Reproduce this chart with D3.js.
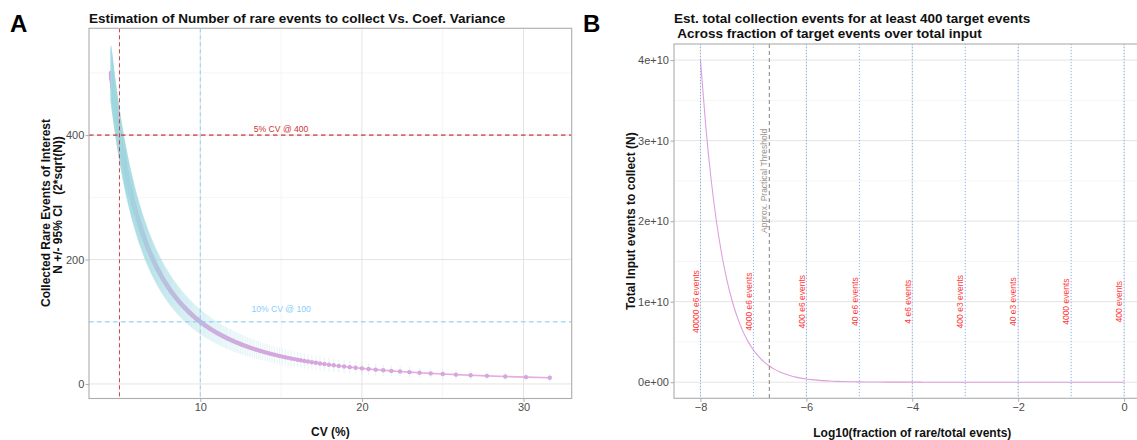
<!DOCTYPE html>
<html>
<head>
<meta charset="utf-8">
<script src="https://cdn.jsdelivr.net/npm/d3@7"></script>
<style>
  html, body { margin: 0; padding: 0; background: #fff; }
  svg { display: block; }
  text { font-family: "Liberation Sans", Arial, Helvetica, sans-serif; white-space: pre; }
</style>
</head>
<body>
<svg id="chart" width="1137" height="440"></svg>
<script>
// ---------------- Panel A data ----------------
// Number of rare events collected (N); CV(%) = 100/sqrt(N), 95% CI = N +/- 2*sqrt(N)
const collectedN = [
  10, 11, 12, 13, 14, 15, 16, 17, 18, 19, 20, 21, 22, 23, 24, 25, 26, 27, 28, 29,
  30, 31, 32, 33, 34, 35, 36, 37, 38, 39, 40, 41, 42, 43, 44, 45, 46, 47, 48, 49,
  50, 51, 52, 53, 54, 55, 56, 57, 58, 59, 60, 61, 62, 63, 64, 65, 66, 67, 68, 69,
  70, 71, 72, 73, 74, 75, 76, 77, 78, 79, 80, 81, 82, 83, 84, 85, 86, 87, 88, 89,
  90, 91, 92, 93, 94, 95, 96, 97, 98, 99, 100, 101, 102, 103, 104, 105, 106, 107, 108, 109,
  110, 111, 112, 113, 114, 115, 116, 117, 118, 119, 120, 121, 122, 123, 124, 125, 126, 127, 128, 129,
  130, 131, 132, 133, 134, 135, 136, 137, 138, 139, 140, 141, 142, 143, 144, 145, 146, 147, 148, 149,
  150, 151, 152, 153, 154, 155, 156, 157, 158, 159, 160, 161, 162, 163, 164, 165, 166, 167, 168, 169,
  170, 171, 172, 173, 174, 175, 176, 177, 178, 179, 180, 181, 182, 183, 184, 185, 186, 187, 188, 189,
  190, 191, 192, 193, 194, 195, 196, 197, 198, 199, 200, 201, 202, 203, 204, 205, 206, 207, 208, 209,
  210, 211, 212, 213, 214, 215, 216, 217, 218, 219, 220, 221, 222, 223, 224, 225, 226, 227, 228, 229,
  230, 231, 232, 233, 234, 235, 236, 237, 238, 239, 240, 241, 242, 243, 244, 245, 246, 247, 248, 249,
  250, 251, 252, 253, 254, 255, 256, 257, 258, 259, 260, 261, 262, 263, 264, 265, 266, 267, 268, 269,
  270, 271, 272, 273, 274, 275, 276, 277, 278, 279, 280, 281, 282, 283, 284, 285, 286, 287, 288, 289,
  290, 291, 292, 293, 294, 295, 296, 297, 298, 299, 300, 301, 302, 303, 304, 305, 306, 307, 308, 309,
  310, 311, 312, 313, 314, 315, 316, 317, 318, 319, 320, 321, 322, 323, 324, 325, 326, 327, 328, 329,
  330, 331, 332, 333, 334, 335, 336, 337, 338, 339, 340, 341, 342, 343, 344, 345, 346, 347, 348, 349,
  350, 351, 352, 353, 354, 355, 356, 357, 358, 359, 360, 361, 362, 363, 364, 365, 366, 367, 368, 369,
  370, 371, 372, 373, 374, 375, 376, 377, 378, 379, 380, 381, 382, 383, 384, 385, 386, 387, 388, 389,
  390, 391, 392, 393, 394, 395, 396, 397, 398, 399, 400, 401, 402, 403, 404, 405, 406, 407, 408, 409,
  410, 411, 412, 413, 414, 415, 416, 417, 418, 419, 420, 421, 422, 423, 424, 425, 426, 427, 428, 429,
  430, 431, 432, 433, 434, 435, 436, 437, 438, 439, 440, 441, 442, 443, 444, 445, 446, 447, 448, 449,
  450, 451, 452, 453, 454, 455, 456, 457, 458, 459, 460, 461, 462, 463, 464, 465, 466, 467, 468, 469,
  470, 471, 472, 473, 474, 475, 476, 477, 478, 479, 480, 481, 482, 483, 484, 485, 486, 487, 488, 489,
  490, 491, 492, 493, 494, 495, 496, 497, 498, 499, 500
];

// Reference CV thresholds and the event counts they require
const refCV = [5, 10];
const refN = [400, 100];
const refNotes = ["5% CV @ 400", "10% CV @ 100"];
const refNoteCV = [15, 15];
const refNoteN = [410, 120];

const xTicksA = [10, 20, 30];
const xMinorA = [5, 15, 25];
const yTicksA = [0, 200, 400];
const yMinorA = [100, 300, 500];

// ---------------- Panel B data ----------------
// log10 of the rare-event fraction and the total input needed to reach 400 target events
const log10Fraction = [
  -8.0, -7.9, -7.8, -7.7, -7.6, -7.5, -7.4, -7.3, -7.2, -7.1,
  -7.0, -6.9, -6.8, -6.7, -6.6, -6.5, -6.4, -6.3, -6.2, -6.1,
  -6.0, -5.9, -5.8, -5.7, -5.6, -5.5, -5.4, -5.3, -5.2, -5.1,
  -5.0, -4.9, -4.8, -4.7, -4.6, -4.5, -4.4, -4.3, -4.2, -4.1,
  -4.0, -3.9, -3.8, -3.7, -3.6, -3.5, -3.4, -3.3, -3.2, -3.1,
  -3.0, -2.9, -2.8, -2.7, -2.6, -2.5, -2.4, -2.3, -2.2, -2.1,
  -2.0, -1.9, -1.8, -1.7, -1.6, -1.5, -1.4, -1.3, -1.2, -1.1,
  -1.0, -0.9, -0.8, -0.7, -0.6, -0.5, -0.4, -0.3, -0.2, -0.1,
  0.0
];
const totalInput = [
  4.000e10, 3.177e10, 2.524e10, 2.005e10, 1.592e10, 1.265e10, 1.005e10, 7.981e9, 6.340e9, 5.036e9,
  4.000e9, 3.177e9, 2.524e9, 2.005e9, 1.592e9, 1.265e9, 1.005e9, 7.981e8, 6.340e8, 5.036e8,
  4.000e8, 3.177e8, 2.524e8, 2.005e8, 1.592e8, 1.265e8, 1.005e8, 7.981e7, 6.340e7, 5.036e7,
  4.000e7, 3.177e7, 2.524e7, 2.005e7, 1.592e7, 1.265e7, 1.005e7, 7.981e6, 6.340e6, 5.036e6,
  4.000e6, 3.177e6, 2.524e6, 2.005e6, 1.592e6, 1.265e6, 1.005e6, 7.981e5, 6.340e5, 5.036e5,
  4.000e5, 3.177e5, 2.524e5, 2.005e5, 1.592e5, 1.265e5, 1.005e5, 7.981e4, 6.340e4, 5.036e4,
  4.000e4, 3.177e4, 2.524e4, 2.005e4, 1.592e4, 1.265e4, 1.005e4, 7.981e3, 6.340e3, 5.036e3,
  4.000e3, 3.177e3, 2.524e3, 2.005e3, 1.592e3, 1.265e3, 1.005e3, 7.981e2, 6.340e2, 5.036e2,
  4.000e2
];

// Marker fractions (one per decade) and the total input each requires
const targetLog10 = [-8, -7, -6, -5, -4, -3, -2, -1, 0];
const targetLabels = ["40000 e6 events", "4000 e6 events", "400 e6 events", "40 e6 events",
  "4 e6 events", "400 e3 events", "40 e3 events", "4000 events", "400 events"];
const targetLabelY = 1e10;

const thresholdLog10 = -6.7;
const thresholdLabel = "Approx. Practical Threshold";
const thresholdLabelY = 2.5e10;

const xLimitsB = [-8.5, 0.5];
const xTicksB = [-8, -6, -4, -2, 0];
const xMinorB = [-7, -5, -3, -1];
const yTicksB = [0, 1e10, 2e10, 3e10, 4e10];
const yTickLabelsB = ["0e+00", "1e+10", "2e+10", "3e+10", "4e+10"];
const yMinorB = [0.5e10, 1.5e10, 2.5e10, 3.5e10];

// ---------------- Drawing ----------------
const FONT = '"Liberation Sans", Arial, Helvetica, sans-serif';
const GRID_MAJOR = "#e4e4e4", GRID_MINOR = "#f1f1f1", BORDER = "#adadad", TICK_TEXT = "#4d4d4d";
const svg = d3.select("#chart");

function expand(ext, f = 0.05) {
  const d = ext[1] - ext[0];
  return [ext[0] - d * f, ext[1] + d * f];
}

function drawGrid(g, box, x, y, xMajor, xMinor, yMajor, yMinor) {
  g.append("rect").attr("x", box.left).attr("y", box.top)
    .attr("width", box.right - box.left).attr("height", box.bottom - box.top).attr("fill", "#fff");
  const vert = (vals, col, w) => g.append("g").selectAll("line").data(vals).join("line")
    .attr("x1", d => x(d)).attr("x2", d => x(d)).attr("y1", box.top).attr("y2", box.bottom)
    .attr("stroke", col).attr("stroke-width", w);
  const horiz = (vals, col, w) => g.append("g").selectAll("line").data(vals).join("line")
    .attr("y1", d => y(d)).attr("y2", d => y(d)).attr("x1", box.left).attr("x2", box.right)
    .attr("stroke", col).attr("stroke-width", w);
  vert(xMinor, GRID_MINOR, 0.7); horiz(yMinor, GRID_MINOR, 0.7);
  vert(xMajor, GRID_MAJOR, 1); horiz(yMajor, GRID_MAJOR, 1);
}

function styleAxis(g) {
  g.attr("font-family", FONT);
  g.select(".domain").remove();
  g.selectAll(".tick line").attr("stroke", BORDER).attr("stroke-width", 1);
  g.selectAll(".tick text").attr("fill", TICK_TEXT).attr("font-size", 11);
}

function clipRect(id, box) {
  svg.append("clipPath").attr("id", id).append("rect")
    .attr("x", box.left).attr("y", box.top)
    .attr("width", box.right - box.left).attr("height", box.bottom - box.top);
}

// ===== Panel A =====
const pA = { left: 89, right: 571.7, top: 28.3, bottom: 398.5 };
const cvA = collectedN.map(n => 100 / Math.sqrt(n));
const ciLo = collectedN.map(n => n - 2 * Math.sqrt(n));
const ciHi = collectedN.map(n => n + 2 * Math.sqrt(n));

const xA = d3.scaleLinear().domain(expand(d3.extent(cvA))).range([pA.left, pA.right]);
const yA = d3.scaleLinear().domain(expand([d3.min(ciLo), d3.max(ciHi)])).range([pA.bottom, pA.top]);

const gA = svg.append("g");
drawGrid(gA, pA, xA, yA, xTicksA, xMinorA, yTicksA, yMinorA);
clipRect("clipA", pA);
const dataA = gA.append("g").attr("clip-path", "url(#clipA)");

// N against CV: line and points
dataA.append("path")
  .datum(collectedN.map((n, i) => [cvA[i], n]))
  .attr("d", d3.line().x(d => xA(d[0])).y(d => yA(d[1])))
  .attr("fill", "none").attr("stroke", "#dda0dd").attr("stroke-width", 1.6).attr("opacity", 0.85);
dataA.append("g").selectAll("circle").data(collectedN).join("circle")
  .attr("cx", (d, i) => xA(cvA[i])).attr("cy", d => yA(d)).attr("r", 2.2)
  .attr("fill", "#dda0dd");

// 95% CI bars
dataA.append("g").selectAll("line").data(collectedN).join("line")
  .attr("x1", (d, i) => xA(cvA[i])).attr("x2", (d, i) => xA(cvA[i]))
  .attr("y1", (d, i) => yA(ciLo[i])).attr("y2", (d, i) => yA(ciHi[i]))
  .attr("stroke", "#a3dbe1").attr("stroke-width", 1.1).attr("stroke-opacity", 0.28);

// reference thresholds
const refStroke = ["#cd3333", "#87cefa"];
refCV.forEach((c, i) => {
  dataA.append("line").attr("x1", xA(c)).attr("x2", xA(c)).attr("y1", pA.top).attr("y2", pA.bottom)
    .attr("stroke", refStroke[i]).attr("stroke-width", 1).attr("stroke-dasharray", "4,3")
    .attr("opacity", 0.9);
});
refN.forEach((n, i) => {
  dataA.append("line").attr("y1", yA(n)).attr("y2", yA(n)).attr("x1", pA.left).attr("x2", pA.right)
    .attr("stroke", refStroke[i]).attr("stroke-width", 1.6).attr("stroke-dasharray", "4.5,3.5")
    .attr("opacity", 0.7);
});
refNotes.forEach((t, i) => {
  dataA.append("text").attr("x", xA(refNoteCV[i])).attr("y", yA(refNoteN[i]))
    .attr("dy", "0.35em").attr("text-anchor", "middle").attr("font-size", 8.6)
    .attr("fill", refStroke[i]).text(t);
});

gA.append("rect").attr("x", pA.left).attr("y", pA.top)
  .attr("width", pA.right - pA.left).attr("height", pA.bottom - pA.top)
  .attr("fill", "none").attr("stroke", BORDER).attr("stroke-width", 1.1);

svg.append("g").attr("transform", `translate(0,${pA.bottom})`)
  .call(d3.axisBottom(xA).tickValues(xTicksA).tickSize(3.5).tickPadding(1.2).tickFormat(d3.format("d")))
  .call(styleAxis);
svg.append("g").attr("transform", `translate(${pA.left},0)`)
  .call(d3.axisLeft(yA).tickValues(yTicksA).tickSize(3.5).tickPadding(1.2).tickFormat(d3.format("d")))
  .call(styleAxis);

// titles for A
svg.append("text").attr("x", 10).attr("y", 31.7).attr("font-size", 24).attr("font-weight", "bold").text("A");
svg.append("text").attr("x", pA.left).attr("y", 23.3).attr("font-size", 13.5).attr("font-weight", "bold")
  .attr("fill", "#111").text("Estimation of Number of rare events to collect Vs. Coef. Variance");
svg.append("text").attr("x", (pA.left + pA.right) / 2).attr("y", 436).attr("text-anchor", "middle")
  .attr("font-size", 12).attr("font-weight", "bold").attr("fill", "#111").text("CV (%)");
svg.append("text").attr("transform", `translate(49.5,213) rotate(-90)`).attr("text-anchor", "middle")
  .attr("font-size", 12).attr("font-weight", "bold").attr("fill", "#111").text("Collected Rare Events of Interest");
svg.append("text").attr("transform", `translate(62,205) rotate(-90)`).attr("text-anchor", "middle")
  .attr("font-size", 12).attr("font-weight", "bold").attr("fill", "#111").text("N +/- 95% CI   (2*sqrt(N))");

// ===== Panel B =====
const pB = { left: 674, right: 1150.6, top: 44, bottom: 398.3 };
const xB = d3.scaleLinear().domain(xLimitsB).range([pB.left, pB.right]);
const yB = d3.scaleLinear().domain(expand(d3.extent(totalInput))).range([pB.bottom, pB.top]);

const gB = svg.append("g");
drawGrid(gB, pB, xB, yB, xTicksB, xMinorB, yTicksB, yMinorB);
clipRect("clipB", pB);
const dataB = gB.append("g").attr("clip-path", "url(#clipB)");

dataB.append("path")
  .datum(log10Fraction.map((f, i) => [f, totalInput[i]]))
  .attr("d", d3.line().x(d => xB(d[0])).y(d => yB(d[1])).curve(d3.curveMonotoneX))
  .attr("fill", "none").attr("stroke", "#dda0dd").attr("stroke-width", 1.1);

dataB.append("g").selectAll("line").data(targetLog10).join("line")
  .attr("x1", d => xB(d)).attr("x2", d => xB(d)).attr("y1", pB.top).attr("y2", pB.bottom)
  .attr("stroke", "#5ea2f7").attr("stroke-width", 1).attr("stroke-dasharray", "1,2").attr("opacity", 0.75);

dataB.append("line").attr("x1", xB(thresholdLog10)).attr("x2", xB(thresholdLog10))
  .attr("y1", pB.top).attr("y2", pB.bottom)
  .attr("stroke", "#8a8077").attr("stroke-width", 1).attr("stroke-dasharray", "4,3");

dataB.append("g").selectAll("text").data(targetLog10).join("text")
  .attr("transform", d => `translate(${xB(d) - 1.8},${yB(targetLabelY)}) rotate(-90)`)
  .attr("text-anchor", "middle").attr("font-size", 8.5).attr("fill", "#ff3a3a")
  .text((d, i) => targetLabels[i]);

dataB.append("text")
  .attr("transform", `translate(${xB(thresholdLog10) - 2.2},${yB(thresholdLabelY)}) rotate(-90)`)
  .attr("text-anchor", "middle").attr("font-size", 8.5).attr("fill", "#9d9388").text(thresholdLabel);

gB.append("rect").attr("x", pB.left).attr("y", pB.top)
  .attr("width", pB.right - pB.left).attr("height", pB.bottom - pB.top)
  .attr("fill", "none").attr("stroke", BORDER).attr("stroke-width", 1.1);

svg.append("g").attr("transform", `translate(0,${pB.bottom})`)
  .call(d3.axisBottom(xB).tickValues(xTicksB).tickSize(3.5).tickPadding(1.2).tickFormat(d3.format("d")))
  .call(styleAxis);
svg.append("g").attr("transform", `translate(${pB.left},0)`)
  .call(d3.axisLeft(yB).tickValues(yTicksB).tickSize(3.5).tickPadding(1.5)
    .tickFormat((d, i) => yTickLabelsB[i]))
  .call(styleAxis);

svg.append("text").attr("x", 583).attr("y", 31.7).attr("font-size", 24).attr("font-weight", "bold").text("B");
svg.append("text").attr("x", pB.left).attr("y", 23.3).attr("font-size", 13.5).attr("font-weight", "bold")
  .attr("fill", "#111").text("Est. total collection events for at least 400 target events");
svg.append("text").attr("x", pB.left).attr("y", 37.7).attr("font-size", 13.5).attr("font-weight", "bold")
  .attr("fill", "#111").text(" Across fraction of target events over total input");
svg.append("text").attr("x", (pB.left + pB.right) / 2).attr("y", 436.5).attr("text-anchor", "middle")
  .attr("font-size", 12).attr("font-weight", "bold").attr("fill", "#111").text("Log10(fraction of rare/total events)");
svg.append("text").attr("transform", `translate(635.3,${(pB.top + pB.bottom) / 2}) rotate(-90)`)
  .attr("text-anchor", "middle").attr("font-size", 12).attr("font-weight", "bold").attr("fill", "#111")
  .text("Total Input events to collect (N)");
</script>
</body>
</html>
